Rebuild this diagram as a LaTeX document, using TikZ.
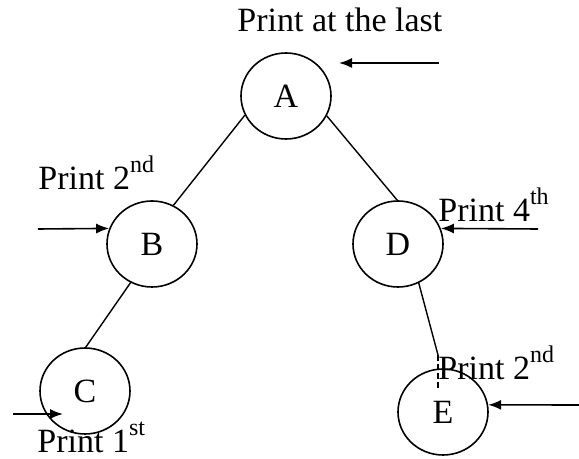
\documentclass[tikz,border=0pt]{standalone}
\usepackage{fontspec}
\setmainfont{Liberation Serif}
\usetikzlibrary{arrows.meta,shapes.geometric}
\newcommand\ordsup[1]{\raisebox{8.5pt}{\fontsize{12}{12}\selectfont #1}}
\begin{document}
\begin{tikzpicture}[x=0.5pt,y=-0.5pt,
  vertex/.style={draw, ellipse, minimum width=45pt, minimum height=43pt, inner sep=0pt, line width=0.8pt, font=\fontsize{17}{20}\selectfont},
  edge/.style={line width=0.7pt},
  pointer/.style={line width=0.8pt, -{Latex[length=6.5pt,width=5pt]}},
  lbl/.style={anchor=base west, inner sep=0pt, font=\fontsize{17}{20}\selectfont}]
\useasboundingbox (0,0) rectangle (579,459);
% nodes
\node[vertex] (A) at (286,96) {A};
\node[vertex] (B) at (152,244) {B};
\node[vertex] (D) at (398,244) {D};
\node[vertex] (C) at (85,391) {C};
\node[vertex] (E) at (443,412) {E};
% edges
\draw[edge] (A.205) -- (B.61);
\draw[edge] (A.334) -- (D.91);
\draw[edge] (B.241) -- (C.89);
\coordinate (ebreak) at (438,355);
\coordinate (edash) at (438,388);
\draw[edge] (D.298) -- (ebreak);
\draw[edge, dashed, dash pattern=on 3pt off 1.5pt] (ebreak) -- (edash);
% pointers
\coordinate (aS) at (439,63);
\coordinate (aT) at (339,63);
\draw[pointer] (aS) -- (aT);
\coordinate (bS) at (38,229);
\draw[pointer] (bS) -- (B.160);
\coordinate (cS) at (13,414);
\coordinate (cT) at (63,414);
\draw[pointer] (cS) -- (cT);
\coordinate (dS) at (538,229);
\draw[pointer] (dS) -- (D.20);
\coordinate (eS) at (579,405);
\draw[pointer] (eS) -- (E.9);
% labels
\node[lbl] (tA) at (237,32) {Print at the last};
\node[lbl] (tB) at (38,190) {Print 2\ordsup{nd}};
\node[lbl] (tD) at (438,222) {Print 4\ordsup{th}};
\node[lbl] (tE) at (438,380) {Print 2\ordsup{nd}};
\node[lbl] (tC) at (37,453) {Print 1\ordsup{st}};
\end{tikzpicture}
\end{document}
